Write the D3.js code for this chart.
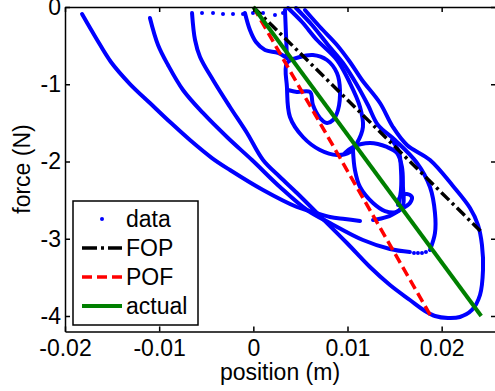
<!DOCTYPE html>
<html>
<head>
<meta charset="utf-8">
<script src="https://cdn.jsdelivr.net/npm/d3@7"></script>
<style>
  body { margin: 0; background: #fff; }
  text { font-family: Arial, "Liberation Sans", sans-serif; }
</style>
</head>
<body>
<svg id="chart" width="495" height="391"></svg>
<script>
// tick labels
const xTicks = [-0.02, -0.01, 0, 0.01, 0.02];
const yTicks = [0, -1, -2, -3, -4];

// model lines [position (m), force (N)]
const fop = [[0, 0], [0.0242, -2.91]];
const pof = [[0, 0], [0.0188, -3.99]];
const actual = [[0, 0], [0.0242, -4.0]];

// measured data, traced trajectories [position, force]
const curveA1 = [[-0.01819,-0.091],[-0.01671,-0.401],[-0.01512,-0.712],[-0.01310,-0.997],[-0.01098,-1.243],
  [-0.00885,-1.489],[-0.00673,-1.722],[-0.00439,-1.955],[-0.00248,-2.110],[0.00103,-2.369],[0.00463,-2.589],
  [0.00633,-2.654],[0.00814,-2.718],[0.00973,-2.744],[0.01133,-2.770]];
const curveA2 = [[0.01271,-2.757],[0.01419,-2.718],[0.01557,-2.628],[0.01663,-2.537],[0.01684,-2.460],
  [0.01631,-2.421],[0.01557,-2.460],[0.01536,-2.563]];
const curveB = [[-0.01098,-0.142],[-0.01012,-0.492],[-0.00906,-0.751],[-0.00747,-1.074],[-0.00535,-1.372],
  [-0.00269,-1.696],[-0.00014,-1.981],[0.00283,-2.330],[0.00570,-2.628],[0.00814,-2.796],[0.01164,-3.016],
  [0.01451,-3.133],[0.01663,-3.172]];
const curveC = [[-0.00651,-0.078],[-0.00619,-0.427],[-0.00566,-0.647],[-0.00428,-0.945],[-0.00248,-1.294],
  [-0.00067,-1.631],[0.00103,-1.981],[0.00283,-2.201],[0.00463,-2.408],[0.00676,-2.667],[0.00994,-3.055],
  [0.01239,-3.366],[0.01451,-3.599],[0.01663,-3.793],[0.01823,-3.935],[0.01929,-4.000],[0.02067,-4.026],
  [0.02194,-4.013],[0.02322,-3.922],[0.02407,-3.728],[0.02439,-3.405],[0.02428,-3.081],[0.02386,-2.822],
  [0.02301,-2.602],[0.02120,-2.317],[0.01876,-1.981],[0.01631,-1.786],[0.01482,-1.553],[0.01345,-1.243],
  [0.01154,-0.945],[0.01026,-0.712],[0.00888,-0.492],[0.00708,-0.259],[0.00548,-0.039]];
const curveD = [[0.00368,-0.013],[0.00517,-0.194],[0.00676,-0.427],[0.00888,-0.686],[0.01026,-0.984],
  [0.01133,-1.294],[0.01164,-1.553],[0.01101,-1.761],[0.01026,-1.877],[0.00888,-1.916],[0.00708,-1.851],
  [0.00527,-1.683],[0.00389,-1.424],[0.00357,-1.036],[0.00357,-0.725],[0.00495,-0.647],[0.00633,-0.621],
  [0.00782,-0.686],[0.00888,-0.854],[0.00920,-1.074],[0.00899,-1.333],[0.00846,-1.463],[0.00782,-1.502],
  [0.00708,-1.437],[0.00633,-1.269],[0.00602,-1.100],[0.00463,-1.100],[0.00368,-1.074]];
const curveArc = [[0.00453,-0.013],[0.00623,-0.233],[0.00793,-0.492],[0.00952,-0.725],[0.01101,-1.010],
  [0.01217,-1.269],[0.01324,-1.528],[0.01504,-1.722],[0.01738,-2.019],[0.01876,-2.330],[0.01929,-2.667],
  [0.01929,-2.926],[0.01876,-3.146]];
const curveE = [[0.00973,-1.890],[0.01058,-1.812],[0.01239,-1.761],[0.01419,-1.812],[0.01525,-1.890],
  [0.01578,-2.071],[0.01589,-2.330],[0.01589,-2.563],[0.01515,-2.654],[0.01398,-2.641],[0.01271,-2.537],
  [0.01133,-2.330],[0.01079,-2.110],[0.01058,-1.851]];
const curveE2 = [[0.01472,-1.722],[0.01546,-1.877],[0.01568,-2.110],[0.01568,-2.369],[0.01546,-2.537]];
const curveI = [[-0.00089,-0.078],[-0.00036,-0.298],[0.00028,-0.453],[0.00124,-0.557],[0.00262,-0.595],[0.00357,-0.660]];
const curveJ = [[0.00336,-0.039],[0.00347,-0.362],[0.00357,-0.660]];
const sparseDots = [[-0.00545,-0.078],[-0.00428,-0.078],[-0.00322,-0.091],[-0.00216,-0.091],[-0.00110,-0.091],
  [-0.00004,-0.078],[0.00103,-0.078],[0.00230,-0.104],[0.00315,-0.078],
  [0.01706,-3.184],[0.01748,-3.184],[0.01791,-3.184],[0.01833,-3.172]];

const dataCurves = [curveA1, curveA2, curveB, curveC, curveD, curveArc, curveE, curveE2, curveI, curveJ];

const legendItems = ['data', 'FOP', 'POF', 'actual'];

const svg = d3.select('#chart');
const fontSize = 23;

const x = d3.scaleLinear().domain([-0.02, 0.02577]).range([65, 496]);
const y = d3.scaleLinear().domain([-4.2, 0]).range([331.45, 7]);

const smooth = d3.line()
  .x(d => x(d[0]))
  .y(d => y(d[1]))
  .curve(d3.curveCatmullRom.alpha(0.5));
const straight = d3.line().x(d => x(d[0])).y(d => y(d[1]));

// data
svg.append('g')
  .selectAll('path')
  .data(dataCurves)
  .join('path')
  .attr('d', smooth)
  .attr('fill', 'none')
  .attr('stroke', '#0000ff')
  .attr('stroke-width', 4)
  .attr('stroke-linecap', 'round')
  .attr('stroke-linejoin', 'round');

svg.append('g')
  .selectAll('circle')
  .data(sparseDots)
  .join('circle')
  .attr('cx', d => x(d[0]))
  .attr('cy', d => y(d[1]))
  .attr('r', 2)
  .attr('fill', '#0000ff');

// fits
svg.append('path').attr('d', straight(fop))
  .attr('fill', 'none').attr('stroke', '#000').attr('stroke-width', 3.5)
  .attr('stroke-dasharray', '11,4,3,4');
svg.append('path').attr('d', straight(pof))
  .attr('fill', 'none').attr('stroke', '#ff0000').attr('stroke-width', 3.5)
  .attr('stroke-dasharray', '10,5');
svg.append('path').attr('d', straight(actual))
  .attr('fill', 'none').attr('stroke', '#008000').attr('stroke-width', 4);

// axes box
const fmt = d => String(d);
function styleAxis(g) {
  g.attr('font-size', fontSize).attr('font-family', 'Arial, "Liberation Sans", sans-serif');
  g.selectAll('path, line').attr('stroke', '#000').attr('stroke-width', 1.5);
  g.selectAll('text').attr('fill', '#000');
}
svg.append('g').attr('transform', 'translate(0,331.45)')
  .call(d3.axisBottom(x).tickValues(xTicks).tickFormat(fmt).tickSizeInner(-5).tickSizeOuter(0).tickPadding(8))
  .call(styleAxis);
svg.append('g').attr('transform', 'translate(0,7)')
  .call(d3.axisTop(x).tickValues(xTicks).tickFormat('').tickSizeInner(-5).tickSizeOuter(0))
  .call(styleAxis);
svg.append('g').attr('transform', 'translate(65,0)')
  .call(d3.axisLeft(y).tickValues(yTicks).tickFormat(fmt).tickSizeInner(-5).tickSizeOuter(0).tickPadding(4))
  .call(styleAxis);
svg.append('g').attr('transform', 'translate(496,0)')
  .call(d3.axisRight(y).tickValues(yTicks).tickFormat('').tickSizeInner(-5).tickSizeOuter(0))
  .call(styleAxis);

// axis titles
svg.append('text')
  .attr('x', 280).attr('y', 380)
  .attr('text-anchor', 'middle')
  .attr('font-size', fontSize)
  .text('position (m)');
svg.append('text')
  .attr('transform', 'translate(22,169) rotate(-90)')
  .attr('text-anchor', 'middle')
  .attr('dy', '0.35em')
  .attr('font-size', fontSize)
  .text('force (N)');

// legend
const legend = svg.append('g');
legend.append('rect')
  .attr('x', 73).attr('y', 201).attr('width', 125).attr('height', 124)
  .attr('fill', '#fff').attr('stroke', '#000').attr('stroke-width', 1.5);
const rowY = d3.scalePoint().domain(legendItems).range([219, 306]);
const rows = legend.selectAll('g.row').data(legendItems).join('g')
  .attr('class', 'row')
  .attr('transform', d => `translate(0,${rowY(d)})`);
rows.filter(d => d === 'data').append('circle')
  .attr('cx', 102).attr('cy', 0).attr('r', 2).attr('fill', '#0000ff');
rows.filter(d => d === 'FOP').append('line')
  .attr('x1', 82).attr('x2', 122).attr('stroke', '#000').attr('stroke-width', 3.5)
  .attr('stroke-dasharray', '15,4,3,4,15');
rows.filter(d => d === 'POF').append('line')
  .attr('x1', 82).attr('x2', 122).attr('stroke', '#ff0000').attr('stroke-width', 3.5)
  .attr('stroke-dasharray', '10,5');
rows.filter(d => d === 'actual').append('line')
  .attr('x1', 82).attr('x2', 122).attr('stroke', '#008000').attr('stroke-width', 4);
rows.append('text')
  .attr('x', 126).attr('dy', '0.35em')
  .attr('font-size', fontSize)
  .text(d => d);
</script>
</body>
</html>
